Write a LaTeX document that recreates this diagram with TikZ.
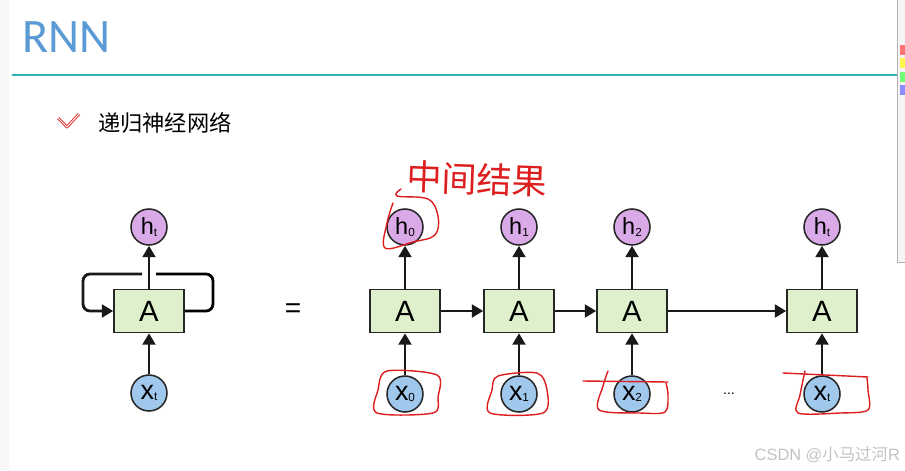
\documentclass[tikz,border=0pt]{standalone}
\usepackage{fontspec}
\setmainfont{Liberation Sans}
\newfontfamily\titlefont{Carlito}
\newfontfamily\cjk{Noto Sans CJK SC}
\usetikzlibrary{arrows.meta}
\definecolor{TitleBlue}{RGB}{91,155,213}
\definecolor{RuleTeal}{RGB}{47,178,180}
\definecolor{CellGreen}{RGB}{222,240,204}
\definecolor{OutPurple}{RGB}{218,170,232}
\definecolor{InBlue}{RGB}{160,200,236}
\definecolor{InkRed}{RGB}{222,30,30}
\definecolor{MarkGray}{RGB}{195,195,195}
\newcommand{\sub}[1]{\raisebox{-1pt}{\fontsize{10}{11}\selectfont #1}}

\begin{document}
\begin{tikzpicture}[
    x=0.03cm,
    y=-0.03cm,
    >={Triangle[length=3.4mm,width=3.8mm]},
    cell/.style={
        draw=black!85,
        line width=1.3pt,
        fill=CellGreen,
        minimum width=2.1cm,
        minimum height=1.29cm,
        font=\fontsize{25}{27}\selectfont
    },
    outc/.style={
        circle,
        draw=black!85,
        line width=1.3pt,
        fill=OutPurple,
        minimum size=1.08cm,
        inner sep=0pt,
        font=\fontsize{20}{22}\selectfont
    },
    inc/.style={
        circle,
        draw=black!85,
        line width=1.3pt,
        fill=InBlue,
        minimum size=1.08cm,
        inner sep=0pt,
        font=\fontsize{23}{24}\selectfont
    },
    arrow/.style={
        ->,
        line width=2.4pt,
        draw=black!90
    },
    ink/.style={
        draw=InkRed,
        line width=1.2pt,
        line cap=round,
        line join=round
    }
]

\useasboundingbox (0,0) rectangle (905,470);
\fill[white] (0,0) rectangle (905,470);
\fill[black!3] (0,0) rectangle (9,470);

\node[anchor=base west, text=TitleBlue, font=\titlefont\fontsize{41}{44}\selectfont] (title) at (18,52) {RNN};
\draw[RuleTeal, line width=2.5pt] (12,75) -- (897,75);

\draw[InkRed, line width=2.4pt, line join=round] (58,118) -- (67,127) -- (79,114);
\draw[white, line width=0.9pt, line join=round] (58,118) -- (67,127) -- (79,114);
\node[anchor=west, font=\cjk\fontsize{19}{21}\selectfont] (bullet) at (94,123) {递归神经网络};

\node[outc] (ht) at (149,227) {h\sub{t}};
\node[cell] (a) at (149,311) {A};
\node[inc] (xt) at (149,393) {x\sub{t}};
\coordinate (gapR) at (156,274);
\coordinate (gapL) at (142,274);

\draw[arrow] (a.north) -- (ht.south);
\draw[arrow] (xt.north) -- (a.south);
\draw[line width=2.4pt, rounded corners=6] (a.east) -| (213,274) -- (gapR);
\draw[arrow, rounded corners=6] (gapL) -| (83,311) -- (a.west);

\node[font=\fontsize{24}{26}\selectfont] (eq) at (293,311) {=};

\node[outc] (h0) at (405,227) {h\sub{0}};
\node[cell] (a0) at (405,311) {A};
\node[inc] (x0) at (405,394) {x\sub{0}};

\node[outc] (h1) at (519,227) {h\sub{1}};
\node[cell] (a1) at (519,311) {A};
\node[inc] (x1) at (519,394) {x\sub{1}};

\node[outc] (h2) at (632,227) {h\sub{2}};
\node[cell] (a2) at (632,311) {A};
\node[inc] (x2) at (632,394) {x\sub{2}};

\node[outc] (hT) at (822,227) {h\sub{t}};
\node[cell] (aT) at (822,311) {A};
\node[inc] (xT) at (822,394) {x\sub{t}};

\node[font=\fontsize{12}{13}\selectfont] (dots) at (729,394) {...};

\draw[arrow] (a0.north) -- (h0.south);
\draw[arrow] (a1.north) -- (h1.south);
\draw[arrow] (a2.north) -- (h2.south);
\draw[arrow] (aT.north) -- (hT.south);
\draw[arrow] (x0.north) -- (a0.south);
\draw[arrow] (x1.north) -- (a1.south);
\draw[arrow] (x2.north) -- (a2.south);
\draw[arrow] (xT.north) -- (aT.south);
\draw[arrow] (a0.east) -- (a1.west);
\draw[arrow] (a1.east) -- (a2.west);
\draw[arrow] (a2.east) -- (aT.west);

\node[text=InkRed, font=\cjk\fontsize{30}{32}\selectfont, rotate=-2] (note) at (477,179) {中间结果};
\draw[ink] plot[smooth, tension=0.6] coordinates {(401,189) (397,196) (428,199) (438,216) (435,235) (413,242) (385,248) (387,223) (393,203)};
\draw[ink] plot[smooth cycle, tension=0.5] coordinates {(387,371) (437,375) (438,397) (433,413) (377,413) (378,390)};
\draw[ink] plot[smooth cycle, tension=0.5] coordinates {(498,376) (537,373) (547,390) (543,413) (490,413) (492,390)};
\draw[ink] (583,381) -- (668,382);
\draw[ink] plot[smooth, tension=0.5] coordinates {(608,371) (603,386) (599,410) (640,413) (665,412) (668,395) (666,383)};
\draw[ink] (783,373) -- (868,377);
\draw[ink] plot[smooth, tension=0.5] coordinates {(805,371) (800,395) (798,413) (840,413) (868,410) (868,390) (867,378)};

\node[anchor=east, text=MarkGray, font=\fontsize{14}{15}\selectfont] (mark) at (904,455) {CSDN @{\cjk 小马过河}R};

\fill[black!4] (897,0) rectangle (905,262);
\draw[black!30] (897,0) -- (897,262) -- (905,262);
\fill[red!55] (900,45) rectangle (905,55);
\fill[yellow!70] (900,58) rectangle (905,68);
\fill[green!55] (900,72) rectangle (905,82);
\fill[blue!45] (900,85) rectangle (905,95);

\end{tikzpicture}
\end{document}
